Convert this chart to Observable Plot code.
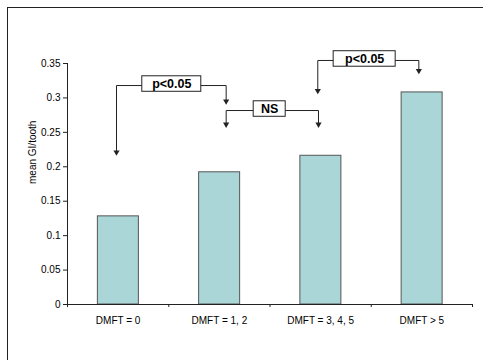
<!DOCTYPE html>
<html><head><meta charset="utf-8">
<script src="https://cdn.jsdelivr.net/npm/d3@7"></script>
<script src="https://cdn.jsdelivr.net/npm/@observablehq/plot@0.6"></script>
<style>
html,body{margin:0;padding:0;background:#fff;overflow:hidden;width:483px;height:360px;font-family:"Liberation Sans",Arial,sans-serif;}
#frame{position:absolute;left:7px;top:7px;width:476px;height:353px;border-left:1px solid #222;border-top:1px solid #222;box-sizing:border-box;}
#chart{position:absolute;left:0;top:0;}
</style></head>
<body><div id="frame"></div><div id="chart"></div>
<script>
// ---- data ----
const categories = ["DMFT = 0", "DMFT = 1, 2", "DMFT = 3, 4, 5", "DMFT > 5"];
const values = [0.128, 0.192, 0.216, 0.308];
const yTicks = [0, 0.05, 0.1, 0.15, 0.2, 0.25, 0.3, 0.35];
const yTickLabels = ["0", "0.05", "0.1", "0.15", "0.2", "0.25", "0.3", "0.35"];
const yLabel = "mean GI/tooth";
// significance brackets (x in category-index units, y in data units)
const bracketLabels = ["p<0.05", "NS", "p<0.05"];
const bracketFromX = [0.484, 1.567, 2.472];
const bracketToX = [1.567, 2.479, 3.47];
const bracketLineY = [0.318, 0.2817, 0.3544];
const bracketFromTipY = [0.219, 0.2595, 0.3083];
const bracketToTipY = [0.293, 0.2595, 0.3374];
const bracketLabelX = [1.03, 1.997, 2.935];

// ---- layout / style ----
const W = 483, H = 360, mL = 67, mR = 11, mT = 63, mB = 56;
const pxX = 4 / (W - mL - mR), pxY = 0.35 / (H - mT - mB);
const boxPxW = [59, 32, 62], boxPxH = 15.5;
const ink = "#222";

const bars = categories.map((c, i) => ({c, i, v: values[i]}));
const brackets = bracketLabels.map((label, i) => ({
  label, i,
  fx: bracketFromX[i], tx: bracketToX[i], ly: bracketLineY[i],
  fy: bracketFromTipY[i], ty: bracketToTipY[i], lx: bracketLabelX[i]
}));
const bracketPts = brackets.flatMap(b => [
  {k: b.i, x: b.fx, y: b.fy}, {k: b.i, x: b.fx, y: b.ly},
  {k: b.i, x: b.tx, y: b.ly}, {k: b.i, x: b.tx, y: b.ty}
]);
const tips = brackets.flatMap(b => [{x: b.fx, y: b.fy}, {x: b.tx, y: b.ty}]);

const chart = Plot.plot({
  width: W, height: H,
  marginLeft: mL, marginRight: mR, marginTop: mT, marginBottom: mB,
  style: {fontFamily: "'Liberation Sans', Arial, sans-serif", color: "#000", background: "transparent"},
  x: {domain: [0, 4], axis: null},
  y: {domain: [0, 0.35], axis: null},
  marks: [
    Plot.rectY(bars, {x1: d => d.i + 0.3, x2: d => d.i + 0.705, y: "v", fill: "#aad6d8", stroke: "#555", strokeWidth: 1}),
    Plot.axisY({ticks: yTicks, tickFormat: (d) => yTickLabels[yTicks.indexOf(d)], tickSize: 4, tickPadding: 3, fontSize: 10, stroke: ink, label: null}),
    Plot.ruleX([0], {y1: 0, y2: 0.35, stroke: ink}),
    Plot.ruleY([0], {x1: 0, x2: 4, stroke: ink}),
    Plot.axisX({ticks: [0, 1, 2, 3, 4], tickFormat: () => "", tickSize: 3, stroke: ink, label: null}),
    Plot.text(bars, {x: d => d.i + 0.5, y: 0, text: "c", dy: 16, fontSize: 10, fill: "#000"}),
    Plot.text([yLabel], {frameAnchor: "left", text: d => d, rotate: -90, dx: -35, fontSize: 10, fill: "#000"}),
    Plot.line(bracketPts, {x: "x", y: "y", z: "k", stroke: ink, strokeWidth: 1, clip: false}),
    Plot.dot(tips, {x: "x", y: "y", symbol: "triangle", rotate: 180, r: 2.3, fill: ink, stroke: null, dy: -1.5}),
    Plot.rect(brackets, {
      x1: d => d.lx - boxPxW[d.i] / 2 * pxX, x2: d => d.lx + boxPxW[d.i] / 2 * pxX,
      y1: d => d.ly - boxPxH / 2 * pxY + 1.5 * pxY, y2: d => d.ly + boxPxH / 2 * pxY + 1.5 * pxY,
      fill: "#fff", stroke: ink, strokeWidth: 1
    }),
    Plot.text(brackets, {x: "lx", y: "ly", text: "label", dy: -1.5, fontSize: 12.5, fontWeight: "bold", fill: "#000"})
  ]
});
document.getElementById("chart").appendChild(chart);
</script>
</body></html>
